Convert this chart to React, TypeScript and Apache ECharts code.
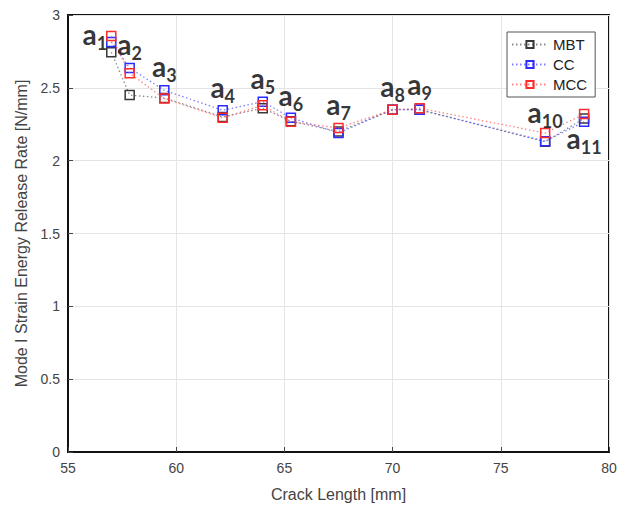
import React, { useEffect, useRef } from 'react';
import * as echarts from 'echarts';

// Crack length positions a1..a11 [mm]
const crackLength = [57.0, 57.85, 59.45, 62.15, 64.0, 65.3, 67.5, 70.0, 71.25, 77.05, 78.85];
// Mode I strain energy release rate [N/mm]
const mbt = [2.745, 2.45, 2.43, 2.3, 2.36, 2.27, 2.2, 2.35, 2.35, 2.13, 2.29];
const cc = [2.815, 2.636, 2.483, 2.346, 2.405, 2.294, 2.19, 2.35, 2.35, 2.134, 2.267];
const mcc = [2.855, 2.6, 2.426, 2.294, 2.38, 2.267, 2.225, 2.35, 2.36, 2.19, 2.32];
const pointNames = ['1', '2', '3', '4', '5', '6', '7', '8', '9', '10', '11'];
const seriesNames = ['MBT', 'CC', 'MCC'];

// label placement (style only)
const labelPlacement = ['left', 'top', 'top', 'top', 'top', 'top', 'top', 'top', 'top', 'top', 'bottom'];
const labelDistance = [4, 6, 6, 5, 6, 5, 6, 6, 6, 3, 2];

export default function App() {
  const ref = useRef<HTMLDivElement>(null);
  useEffect(() => {
    const chart = echarts.init(ref.current!, null, { renderer: 'svg' });
    const colors = ['#383838', '#2b2bff', '#ff2b2b'];
    const lineColors = ['rgba(90,90,90,0.7)', 'rgba(70,70,255,0.7)', 'rgba(255,80,80,0.7)'];
    const values = [mbt, cc, mcc];
    const lineSeries = values.map((vals, k) => ({
      name: seriesNames[k],
      type: 'line',
      data: crackLength.map((x, i) => [x, vals[i]]),
      symbol: 'rect',
      symbolSize: 9,
      showSymbol: true,
      z: 3 + k,
      itemStyle: { color: 'rgba(255,255,255,0)', borderColor: colors[k], borderWidth: 1.5 },
      lineStyle: { type: [1.5, 2.5], color: lineColors[k], width: 1.3 },
    }));
    const labelData = crackLength.map((x, i) => {
      const hi = Math.max(mbt[i], cc[i], mcc[i]);
      const lo = Math.min(mbt[i], cc[i], mcc[i]);
      const pos = labelPlacement[i];
      return {
        value: [x, pos === 'bottom' ? lo : pos === 'left' ? mcc[i] : hi],
        label: {
          position: pos,
          distance: labelDistance[i],
        },
      };
    });
    chart.setOption({
      animation: false,
      backgroundColor: '#fff',
      grid: {
        left: 68,
        right: 18,
        top: 15,
        bottom: 53,
        show: true,
        borderColor: '#111',
        borderWidth: 2,
        backgroundColor: '#fff',
      },
      legend: {
        data: seriesNames,
        orient: 'vertical',
        left: 507,
        top: 32,
        backgroundColor: '#fff',
        borderColor: '#555',
        borderWidth: 1,
        borderRadius: 0,
        padding: [5, 8, 5, 4],
        itemWidth: 36,
        itemHeight: 9,
        itemGap: 5,
        textStyle: { fontFamily: 'Liberation Sans', fontSize: 15, color: '#222' },
      },
      xAxis: {
        type: 'value',
        min: 55,
        max: 80,
        interval: 5,
        name: 'Crack Length [mm]',
        nameLocation: 'middle',
        nameGap: 34,
        nameTextStyle: { fontFamily: 'Liberation Sans', fontSize: 16, color: '#444' },
        axisLine: { show: true, lineStyle: { color: '#111', width: 2 } },
        axisTick: { show: true, inside: true, length: 5, lineStyle: { color: '#444' } },
        axisLabel: { fontFamily: 'Liberation Sans', fontSize: 14, color: '#444', margin: 9 },
        splitLine: { show: true, lineStyle: { color: '#e4e4e4', width: 1 } },
      },
      yAxis: {
        type: 'value',
        min: 0,
        max: 3,
        interval: 0.5,
        name: 'Mode I Strain Energy Release Rate [N/mm]',
        nameLocation: 'middle',
        nameGap: 38,
        nameTextStyle: { fontFamily: 'Liberation Sans', fontSize: 16, color: '#444' },
        axisLine: { show: true, lineStyle: { color: '#111', width: 2 } },
        axisTick: { show: true, inside: true, length: 5, lineStyle: { color: '#444' } },
        axisLabel: { fontFamily: 'Liberation Sans', fontSize: 14, color: '#444', margin: 8 },
        splitLine: { show: true, lineStyle: { color: '#e4e4e4', width: 1 } },
      },
      series: [
        ...lineSeries,
        {
          name: 'labels',
          type: 'scatter',
          data: labelData,
          symbolSize: 0,
          silent: true,
          z: 10,
          label: {
            show: true,
            formatter: (p: any) => `{a|a}{s|${pointNames[p.dataIndex]}}`,
            rich: {
              a: { fontFamily: 'Lato', fontWeight: 'bold', fontSize: 28, color: '#000', lineHeight: 26, verticalAlign: 'top' },
              s: { fontFamily: 'Lato', fontWeight: 'bold', fontSize: 18, color: '#000', lineHeight: 32, verticalAlign: 'bottom' },
            },
          },
        },
      ],
    });
    return () => chart.dispose();
  }, []);
  return (
    <div
      ref={ref}
      style={{ position: 'fixed', left: 0, top: 0, width: 627, height: 507, background: '#fff' }}
    />
  );
}
